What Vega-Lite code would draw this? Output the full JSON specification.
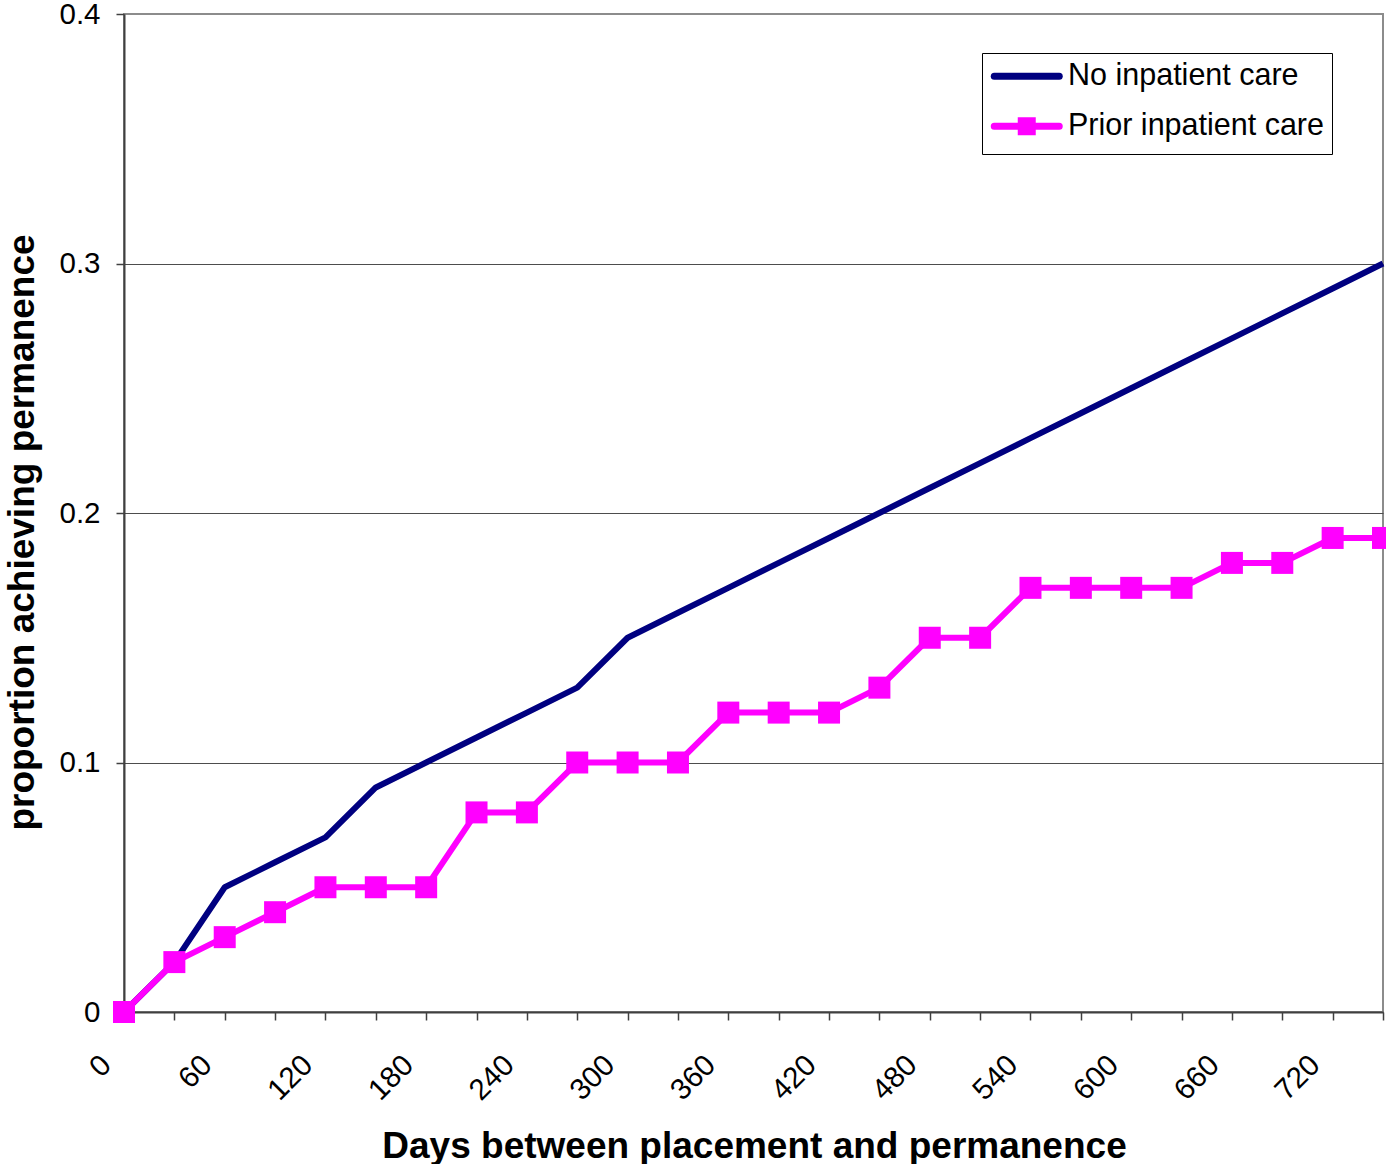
{
  "$schema": "https://vega.github.io/schema/vega-lite/v6.json",
  "width": 1259,
  "height": 998,
  "autosize": {"type": "none"},
  "padding": {"left": 124, "top": 14, "right": 3, "bottom": 152},
  "background": "white",
  "config": {
    "font": "Liberation Sans",
    "view": {"stroke": "#8c8c8c", "strokeWidth": 2}
  },
  "datasets": {
    "survival": [
      {"days": 0, "series": "No inpatient care", "proportion": 0},
      {"days": 30, "series": "No inpatient care", "proportion": 0.02},
      {"days": 60, "series": "No inpatient care", "proportion": 0.05},
      {"days": 90, "series": "No inpatient care", "proportion": 0.06},
      {"days": 120, "series": "No inpatient care", "proportion": 0.07},
      {"days": 150, "series": "No inpatient care", "proportion": 0.09},
      {"days": 180, "series": "No inpatient care", "proportion": 0.10},
      {"days": 210, "series": "No inpatient care", "proportion": 0.11},
      {"days": 240, "series": "No inpatient care", "proportion": 0.12},
      {"days": 270, "series": "No inpatient care", "proportion": 0.13},
      {"days": 300, "series": "No inpatient care", "proportion": 0.15},
      {"days": 330, "series": "No inpatient care", "proportion": 0.16},
      {"days": 360, "series": "No inpatient care", "proportion": 0.17},
      {"days": 390, "series": "No inpatient care", "proportion": 0.18},
      {"days": 420, "series": "No inpatient care", "proportion": 0.19},
      {"days": 450, "series": "No inpatient care", "proportion": 0.20},
      {"days": 480, "series": "No inpatient care", "proportion": 0.21},
      {"days": 510, "series": "No inpatient care", "proportion": 0.22},
      {"days": 540, "series": "No inpatient care", "proportion": 0.23},
      {"days": 570, "series": "No inpatient care", "proportion": 0.24},
      {"days": 600, "series": "No inpatient care", "proportion": 0.25},
      {"days": 630, "series": "No inpatient care", "proportion": 0.26},
      {"days": 660, "series": "No inpatient care", "proportion": 0.27},
      {"days": 690, "series": "No inpatient care", "proportion": 0.28},
      {"days": 720, "series": "No inpatient care", "proportion": 0.29},
      {"days": 750, "series": "No inpatient care", "proportion": 0.30},
      {"days": 0, "series": "Prior inpatient care", "proportion": 0},
      {"days": 30, "series": "Prior inpatient care", "proportion": 0.02},
      {"days": 60, "series": "Prior inpatient care", "proportion": 0.03},
      {"days": 90, "series": "Prior inpatient care", "proportion": 0.04},
      {"days": 120, "series": "Prior inpatient care", "proportion": 0.05},
      {"days": 150, "series": "Prior inpatient care", "proportion": 0.05},
      {"days": 180, "series": "Prior inpatient care", "proportion": 0.05},
      {"days": 210, "series": "Prior inpatient care", "proportion": 0.08},
      {"days": 240, "series": "Prior inpatient care", "proportion": 0.08},
      {"days": 270, "series": "Prior inpatient care", "proportion": 0.10},
      {"days": 300, "series": "Prior inpatient care", "proportion": 0.10},
      {"days": 330, "series": "Prior inpatient care", "proportion": 0.10},
      {"days": 360, "series": "Prior inpatient care", "proportion": 0.12},
      {"days": 390, "series": "Prior inpatient care", "proportion": 0.12},
      {"days": 420, "series": "Prior inpatient care", "proportion": 0.12},
      {"days": 450, "series": "Prior inpatient care", "proportion": 0.13},
      {"days": 480, "series": "Prior inpatient care", "proportion": 0.15},
      {"days": 510, "series": "Prior inpatient care", "proportion": 0.15},
      {"days": 540, "series": "Prior inpatient care", "proportion": 0.17},
      {"days": 570, "series": "Prior inpatient care", "proportion": 0.17},
      {"days": 600, "series": "Prior inpatient care", "proportion": 0.17},
      {"days": 630, "series": "Prior inpatient care", "proportion": 0.17},
      {"days": 660, "series": "Prior inpatient care", "proportion": 0.18},
      {"days": 690, "series": "Prior inpatient care", "proportion": 0.18},
      {"days": 720, "series": "Prior inpatient care", "proportion": 0.19},
      {"days": 750, "series": "Prior inpatient care", "proportion": 0.19}
    ]
  },
  "data": {"name": "survival"},
  "encoding": {
    "x": {
      "field": "days",
      "type": "quantitative",
      "scale": {"domain": [0, 750], "nice": false, "zero": true},
      "axis": {
        "title": "Days between placement and permanence",
        "titleFont": "Liberation Sans",
        "titleFontSize": 37,
        "titleFontWeight": "bold",
        "titleColor": "black",
        "titleX": 630,
        "titleY": 145,
        "titleAlign": "center",
        "titleBaseline": "alphabetic",
        "values": [0, 30, 60, 90, 120, 150, 180, 210, 240, 270, 300, 330, 360, 390, 420, 450, 480, 510, 540, 570, 600, 630, 660, 690, 720, 750],
        "labelExpr": "datum.value % 60 === 0 && datum.value <= 720 ? datum.label : ''",
        "labelAngle": -45,
        "labelAlign": "right",
        "labelBaseline": "middle",
        "labelOffset": -18,
        "labelPadding": 40,
        "labelFontSize": 29.5,
        "labelColor": "black",
        "labelOverlap": false,
        "labelFlush": false,
        "labelBound": false,
        "tickSize": 8,
        "tickColor": "#404040",
        "tickWidth": 1.5,
        "domainColor": "#404040",
        "domainWidth": 2,
        "grid": false
      }
    },
    "y": {
      "field": "proportion",
      "type": "quantitative",
      "scale": {"domain": [0, 0.4], "nice": false},
      "axis": {
        "title": "proportion achieving permanence",
        "titleFont": "Liberation Sans",
        "titleFontSize": 37,
        "titleFontWeight": "bold",
        "titleColor": "black",
        "titleAngle": -90,
        "titleX": -91,
        "titleY": 518,
        "titleAlign": "center",
        "titleBaseline": "alphabetic",
        "values": [0, 0.1, 0.2, 0.3, 0.4],
        "format": ".1~f",
        "labelFontSize": 29.5,
        "labelColor": "black",
        "labelPadding": 16,
        "labelFlush": false,
        "labelBound": false,
        "tickSize": 8,
        "tickColor": "#404040",
        "tickWidth": 1.5,
        "domainColor": "#404040",
        "domainWidth": 2,
        "grid": true,
        "gridColor": {"condition": {"test": "datum.value >= 0.39", "value": "#8c8c8c"}, "value": "#4d4d4d"},
        "gridWidth": 1
      }
    }
  },
  "layer": [
    {
      "mark": {"type": "line", "strokeWidth": 6, "strokeJoin": "round"},
      "encoding": {
        "color": {
          "field": "series",
          "type": "nominal",
          "scale": {"domain": ["No inpatient care", "Prior inpatient care"], "range": ["#000080", "#FF00FF"]},
          "legend": {
            "title": null,
            "orient": "none",
            "legendX": 858,
            "legendY": 39,
            "padding": 8,
            "strokeColor": "#000000",
            "fillColor": "white",
            "labelFont": "Liberation Sans",
            "labelFontSize": 30.5,
            "labelColor": "black",
            "labelLimit": 400,
            "labelOffset": 26,
            "symbolOffset": 21.5,
            "symbolSize": 400,
            "symbolStrokeWidth": 7,
            "rowPadding": 14,
            "symbolType": "M-3.25,0H3.25",
            "encode": {
              "symbols": {
                "update": {
                  "shape": {"signal": "datum.value === 'Prior inpatient care' ? 'M-3.25,0H3.25M-0.55,-0.55H0.55V0.55H-0.55Z' : 'M-3.25,0H3.25'"},
                  "fill": {"signal": "datum.value === 'Prior inpatient care' ? '#FF00FF' : 'transparent'"},
                  "stroke": {"signal": "datum.value === 'Prior inpatient care' ? '#FF00FF' : '#000080'"},
                  "strokeWidth": {"value": 7},
                  "strokeCap": {"value": "round"},
                  "strokeJoin": {"value": "miter"},
                  "size": {"value": 400},
                  "opacity": {"value": 1}
                }
              }
            }
          }
        }
      }
    },
    {
      "transform": [{"filter": "datum.series === 'Prior inpatient care'"}],
      "mark": {"type": "point", "shape": "square", "filled": true, "size": 484, "color": "#FF00FF", "opacity": 1}
    }
  ]
}
